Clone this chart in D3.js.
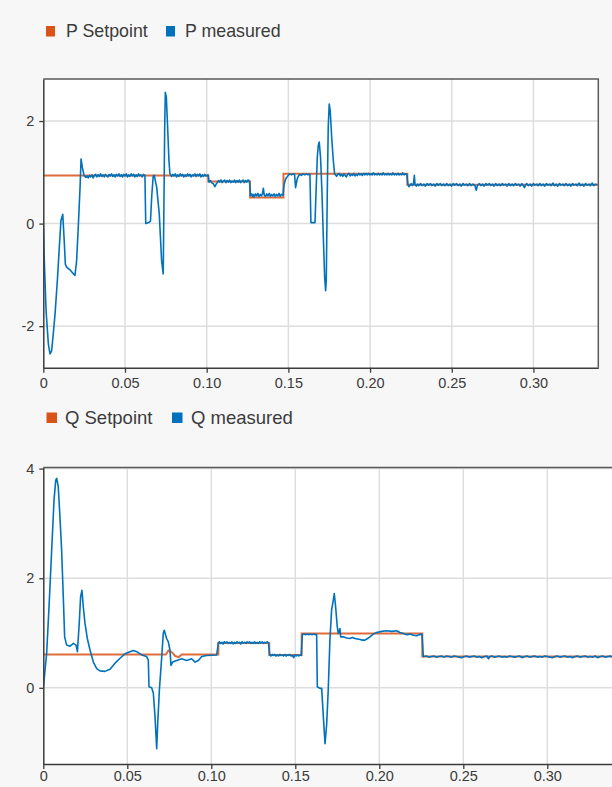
<!DOCTYPE html>
<html>
<head>
<meta charset="utf-8">
<script src="https://cdn.jsdelivr.net/npm/d3@7/dist/d3.min.js"></script>
<style>
  html, body { margin: 0; padding: 0; background: #f7f7f7; }
  svg { display: block; font-family: "Liberation Sans", Arial, sans-serif; }
</style>
</head>
<body>
<svg id="chart" width="612" height="787"></svg>
<script>
// ---- data ---------------------------------------------------------------
const timeTicks = [0, 0.05, 0.10, 0.15, 0.20, 0.25, 0.30];
const pTicks = [-2, 0, 2];
const qTicks = [0, 2, 4];

const pLegend = ["P Setpoint", "P measured"];
const qLegend = ["Q Setpoint", "Q measured"];

// active power setpoint [t, value]
const pSetpoint = [
  [0, 0.94], [0.101, 0.94], [0.101, 0.82], [0.1265, 0.82], [0.1265, 0.51],
  [0.147, 0.51], [0.147, 0.97], [0.2228, 0.97], [0.2228, 0.76], [0.34, 0.76]
];

// active power measured [t, value]
const pMeasured = [
  [0, 0], [0.0006, -0.72], [0.0017, -1.70], [0.0031, -2.35], [0.0041, -2.54], [0.0051, -2.48],
  [0.0061, -2.15], [0.0072, -1.76], [0.0086, -1.11], [0.0098, -0.46], [0.0108, 0.06], [0.0119, 0.18],
  [0.0127, -0.27], [0.0135, -0.79], [0.0143, -0.85], [0.0163, -0.90], [0.0184, -0.98], [0.0194, -1.01],
  [0.0204, -0.72], [0.0214, -0.07], [0.0225, 0.71], [0.0231, 1.26], [0.0239, 1.10], [0.0249, 0.94],
  [0.0261, 0.90], [0.0268, 0.93], [0.0275, 0.89], [0.0283, 0.94], [0.029, 0.91], [0.0298, 0.95],
  [0.0305, 0.89], [0.0313, 0.94], [0.032, 0.96], [0.0328, 0.91], [0.0335, 0.95], [0.0343, 0.92],
  [0.035, 0.97], [0.0358, 0.92], [0.0365, 0.95], [0.0373, 0.91], [0.038, 0.96], [0.0388, 0.93],
  [0.0395, 0.91], [0.0403, 0.96], [0.041, 0.93], [0.0418, 0.97], [0.0425, 0.92], [0.0433, 0.95],
  [0.044, 0.91], [0.0448, 0.96], [0.0455, 0.93], [0.0463, 0.97], [0.047, 0.92], [0.0478, 0.95],
  [0.0485, 0.91], [0.0493, 0.96], [0.05, 0.93], [0.0508, 0.97], [0.0515, 0.91], [0.0523, 0.95],
  [0.053, 0.92], [0.0538, 0.97], [0.0545, 0.93], [0.0553, 0.96], [0.056, 0.91], [0.0568, 0.95],
  [0.0575, 0.92], [0.0583, 0.97], [0.059, 0.93], [0.0598, 0.95], [0.0605, 0.91], [0.0613, 0.96],
  [0.0622, 0.94], [0.0627, 0.0], [0.0645, 0.02], [0.0656, 0.05], [0.0664, 0.55], [0.0673, 0.93],
  [0.0679, 0.94], [0.0694, 0.71], [0.0710, 0.18], [0.0724, -0.72], [0.0734, -0.98], [0.0739, 0.58],
  [0.0743, 1.88], [0.0747, 2.56], [0.0753, 2.47], [0.0761, 1.88], [0.0769, 1.23], [0.0775, 0.97],
  [0.0786, 0.92], [0.0793, 0.96], [0.080, 0.93], [0.0808, 0.97], [0.0815, 0.91], [0.0823, 0.95],
  [0.083, 0.92], [0.0838, 0.97], [0.0845, 0.93], [0.0853, 0.96], [0.086, 0.91], [0.0868, 0.95],
  [0.0875, 0.92], [0.0883, 0.97], [0.089, 0.93], [0.0898, 0.96], [0.0905, 0.91], [0.0913, 0.95],
  [0.092, 0.93], [0.0928, 0.97], [0.0935, 0.92], [0.0943, 0.96], [0.095, 0.93], [0.0958, 0.97],
  [0.0965, 0.91], [0.0973, 0.95], [0.098, 0.92], [0.0988, 0.96], [0.0995, 0.93], [0.1008, 0.95],
  [0.1015, 0.81], [0.1023, 0.84], [0.103, 0.80], [0.104, 0.78], [0.105, 0.72], [0.1058, 0.77],
  [0.1065, 0.80], [0.1073, 0.84], [0.108, 0.81], [0.1088, 0.85], [0.1095, 0.80], [0.1103, 0.83],
  [0.111, 0.85], [0.1118, 0.80], [0.1125, 0.84], [0.1133, 0.81], [0.114, 0.85], [0.1148, 0.80],
  [0.1155, 0.83], [0.1163, 0.81], [0.117, 0.85], [0.1178, 0.80], [0.1185, 0.84], [0.1193, 0.81],
  [0.120, 0.85], [0.1208, 0.80], [0.1215, 0.83], [0.1223, 0.85], [0.123, 0.80], [0.1238, 0.84],
  [0.1245, 0.81], [0.1253, 0.85], [0.1262, 0.83], [0.1268, 0.55], [0.1274, 0.58], [0.128, 0.53],
  [0.1285, 0.57], [0.129, 0.52], [0.1298, 0.58], [0.1305, 0.54], [0.1313, 0.59], [0.132, 0.53],
  [0.1328, 0.57], [0.1335, 0.54], [0.1341, 0.58], [0.1347, 0.69], [0.1352, 0.56], [0.136, 0.53],
  [0.1368, 0.58], [0.1375, 0.54], [0.1383, 0.59], [0.139, 0.53], [0.1398, 0.57], [0.1405, 0.54],
  [0.1413, 0.58], [0.142, 0.53], [0.1428, 0.57], [0.1435, 0.54], [0.1443, 0.59], [0.145, 0.53],
  [0.1458, 0.57], [0.1467, 0.55], [0.1473, 0.75], [0.1483, 0.87], [0.1499, 0.94], [0.1508, 0.97],
  [0.152, 0.95], [0.153, 0.97], [0.1538, 0.96], [0.1544, 0.70], [0.1554, 0.87], [0.1562, 0.93],
  [0.157, 0.96], [0.158, 0.94], [0.159, 0.97], [0.160, 0.95], [0.161, 0.97], [0.162, 0.95],
  [0.1632, 0.97], [0.1638, 0.02], [0.1663, 0.02], [0.1669, 0.58], [0.1677, 1.29], [0.1683, 1.52],
  [0.1689, 1.59], [0.1697, 1.29], [0.1706, 0.58], [0.1714, -0.27], [0.1722, -1.04], [0.1728, -1.31],
  [0.1732, -1.11], [0.1738, 0.58], [0.1744, 1.88], [0.1750, 2.33], [0.1756, 2.21], [0.1765, 1.69],
  [0.1775, 1.23], [0.1783, 0.97], [0.1789, 0.95], [0.1795, 0.92], [0.1803, 0.96], [0.181, 0.98],
  [0.1818, 0.93], [0.1825, 0.96], [0.1833, 0.92], [0.184, 0.97], [0.1848, 0.94], [0.1855, 0.91],
  [0.1863, 0.96], [0.187, 0.98], [0.1878, 0.93], [0.1885, 0.96], [0.1893, 0.94], [0.190, 0.98],
  [0.1908, 0.93], [0.1915, 0.96], [0.1923, 0.94], [0.193, 0.98], [0.1938, 0.95], [0.1945, 0.97],
  [0.1953, 0.94], [0.196, 0.98], [0.1968, 0.95], [0.1975, 0.98], [0.1983, 0.95], [0.199, 0.98],
  [0.1998, 0.95], [0.2005, 0.97], [0.2013, 0.95], [0.202, 0.99], [0.2028, 0.95], [0.2035, 0.97],
  [0.2043, 0.95], [0.205, 0.98], [0.2058, 0.95], [0.2065, 0.97], [0.2073, 0.95], [0.208, 0.99],
  [0.2088, 0.95], [0.2095, 0.97], [0.2103, 0.95], [0.211, 0.98], [0.2118, 0.95], [0.2125, 0.97],
  [0.2133, 0.95], [0.214, 0.99], [0.2148, 0.95], [0.2155, 0.97], [0.2163, 0.95], [0.217, 0.98],
  [0.2178, 0.95], [0.2185, 0.97], [0.2193, 0.95], [0.220, 0.99], [0.2208, 0.95], [0.2215, 0.97],
  [0.2225, 0.96], [0.2232, 0.76], [0.2238, 0.72], [0.2245, 0.75], [0.2253, 0.78], [0.226, 0.74],
  [0.2266, 0.77], [0.2271, 0.94], [0.2275, 0.77], [0.2283, 0.73], [0.229, 0.77], [0.2298, 0.74],
  [0.231, 0.78], [0.2318, 0.74], [0.233, 0.77], [0.2338, 0.73], [0.235, 0.78], [0.2358, 0.75],
  [0.237, 0.78], [0.2378, 0.74], [0.239, 0.77], [0.2398, 0.73], [0.241, 0.78], [0.2418, 0.75],
  [0.243, 0.78], [0.2438, 0.74], [0.245, 0.77], [0.2458, 0.74], [0.247, 0.78], [0.2478, 0.74],
  [0.249, 0.77], [0.2498, 0.73], [0.251, 0.78], [0.2518, 0.75], [0.253, 0.78], [0.2538, 0.74],
  [0.255, 0.77], [0.2558, 0.73], [0.257, 0.78], [0.2578, 0.75], [0.259, 0.77], [0.2598, 0.74],
  [0.261, 0.78], [0.2618, 0.74], [0.263, 0.77], [0.2642, 0.74], [0.265, 0.65], [0.2658, 0.75],
  [0.267, 0.78], [0.2678, 0.74], [0.269, 0.77], [0.2698, 0.73], [0.271, 0.78], [0.2718, 0.75],
  [0.273, 0.78], [0.2738, 0.74], [0.275, 0.77], [0.2758, 0.73], [0.277, 0.78], [0.2778, 0.74],
  [0.279, 0.77], [0.2798, 0.74], [0.281, 0.78], [0.2818, 0.75], [0.283, 0.77], [0.2838, 0.73],
  [0.285, 0.78], [0.2858, 0.74], [0.287, 0.77], [0.2878, 0.74], [0.289, 0.78], [0.2898, 0.75],
  [0.291, 0.77], [0.2918, 0.73], [0.293, 0.78], [0.2938, 0.74], [0.2945, 0.70], [0.2953, 0.76],
  [0.296, 0.78], [0.2968, 0.74], [0.298, 0.77], [0.2988, 0.73], [0.300, 0.78], [0.3008, 0.75],
  [0.302, 0.77], [0.3028, 0.74], [0.304, 0.78], [0.3048, 0.74], [0.306, 0.77], [0.3068, 0.73],
  [0.308, 0.78], [0.3088, 0.75], [0.310, 0.77], [0.3108, 0.74], [0.312, 0.79], [0.3128, 0.74],
  [0.314, 0.77], [0.3148, 0.73], [0.316, 0.78], [0.3168, 0.75], [0.318, 0.77], [0.3188, 0.74],
  [0.320, 0.78], [0.3208, 0.74], [0.322, 0.77], [0.3228, 0.73], [0.324, 0.78], [0.3248, 0.75],
  [0.326, 0.77], [0.3268, 0.74], [0.328, 0.79], [0.3288, 0.74], [0.330, 0.77], [0.3308, 0.73],
  [0.332, 0.78], [0.3328, 0.75], [0.334, 0.77], [0.3348, 0.74], [0.336, 0.79], [0.3368, 0.74],
  [0.338, 0.77], [0.3387, 0.75]
];

// reactive power setpoint [t, value]
const qSetpoint = [
  [0, 0.61], [0.0730, 0.61], [0.0745, 0.68], [0.0765, 0.65], [0.0785, 0.58], [0.0805, 0.56],
  [0.0825, 0.61], [0.1042, 0.61], [0.1042, 0.82], [0.1345, 0.82], [0.1345, 0.60], [0.1538, 0.60],
  [0.1538, 0.99], [0.2256, 0.99], [0.2256, 0.57], [0.34, 0.57]
];

// reactive power measured [t, value]
const qMeasured = [
  [0, 0], [0.0020, 0.63], [0.0036, 1.60], [0.0050, 2.52], [0.0064, 3.43], [0.0074, 3.79],
  [0.0080, 3.82], [0.0089, 3.67], [0.0099, 3.12], [0.0109, 2.52], [0.0119, 1.66], [0.0127, 0.93],
  [0.0139, 0.78], [0.0159, 0.76], [0.0179, 0.81], [0.0195, 0.78], [0.0203, 0.66], [0.0214, 1.18],
  [0.0222, 1.66], [0.0230, 1.78], [0.0238, 1.48], [0.0248, 1.18], [0.0262, 0.90], [0.0278, 0.69],
  [0.0298, 0.47], [0.0318, 0.35], [0.0337, 0.31], [0.0367, 0.30], [0.0397, 0.34], [0.0427, 0.45],
  [0.0457, 0.54], [0.0486, 0.62], [0.0516, 0.66], [0.0536, 0.68], [0.0556, 0.66], [0.0586, 0.60],
  [0.0615, 0.57], [0.0625, 0.51], [0.0629, 0.02], [0.0645, 0.0], [0.0655, -0.10], [0.0665, -0.53],
  [0.0675, -1.11], [0.0681, -0.65], [0.0691, -0.04], [0.0705, 0.57], [0.0714, 0.99], [0.0720, 1.05],
  [0.0734, 0.90], [0.0744, 0.84], [0.0754, 0.69], [0.0760, 0.41], [0.0770, 0.47], [0.0794, 0.50],
  [0.0824, 0.53], [0.0853, 0.50], [0.0883, 0.53], [0.0903, 0.47], [0.0923, 0.50], [0.0943, 0.57],
  [0.0972, 0.59], [0.1032, 0.60], [0.1042, 0.81], [0.1048, 0.84], [0.1055, 0.81], [0.1063, 0.83],
  [0.107, 0.80], [0.1078, 0.84], [0.1085, 0.82], [0.1093, 0.84], [0.110, 0.81], [0.1108, 0.83],
  [0.1115, 0.81], [0.1123, 0.84], [0.113, 0.80], [0.1138, 0.83], [0.1145, 0.81], [0.1153, 0.84],
  [0.116, 0.82], [0.1168, 0.83], [0.1175, 0.80], [0.1183, 0.84], [0.119, 0.82], [0.1198, 0.83],
  [0.1205, 0.81], [0.1213, 0.84], [0.122, 0.82], [0.1228, 0.84], [0.1235, 0.81], [0.1243, 0.83],
  [0.125, 0.81], [0.1258, 0.84], [0.1265, 0.81], [0.1273, 0.83], [0.128, 0.81], [0.1288, 0.84],
  [0.1295, 0.82], [0.1303, 0.84], [0.131, 0.81], [0.1318, 0.83], [0.1325, 0.82], [0.1333, 0.84],
  [0.134, 0.82], [0.1348, 0.60], [0.1355, 0.58], [0.1363, 0.61], [0.137, 0.59], [0.1378, 0.61],
  [0.1385, 0.58], [0.1393, 0.60], [0.140, 0.58], [0.1408, 0.61], [0.1415, 0.59], [0.1423, 0.60],
  [0.143, 0.58], [0.1438, 0.61], [0.1445, 0.58], [0.1453, 0.60], [0.146, 0.59], [0.1468, 0.61],
  [0.1475, 0.58], [0.1483, 0.59], [0.149, 0.55], [0.1498, 0.60], [0.1505, 0.58], [0.1513, 0.60],
  [0.152, 0.58], [0.1528, 0.60], [0.1535, 0.59], [0.1542, 0.97], [0.155, 0.98], [0.156, 0.97],
  [0.157, 0.98], [0.158, 0.97], [0.159, 0.98], [0.160, 0.97], [0.161, 0.98], [0.162, 0.97],
  [0.1627, 0.97], [0.1631, 0.02], [0.1647, -0.01], [0.1657, -0.01], [0.1667, -0.53], [0.1677, -1.02],
  [0.1687, -0.65], [0.1696, -0.04], [0.1706, 0.87], [0.1716, 1.42], [0.1723, 1.54], [0.1732, 1.72],
  [0.1740, 1.48], [0.1750, 1.11], [0.1756, 0.99], [0.1766, 1.08], [0.1770, 0.93], [0.1786, 0.93],
  [0.1805, 0.91], [0.1825, 0.90], [0.1840, 0.92], [0.1855, 0.90], [0.1870, 0.89], [0.1885, 0.88],
  [0.1900, 0.87], [0.1915, 0.87], [0.1930, 0.90], [0.1944, 0.93], [0.1964, 0.98], [0.1984, 1.01],
  [0.2014, 1.03], [0.2044, 1.04], [0.2074, 1.03], [0.2103, 1.04], [0.2123, 1.01], [0.2143, 0.99],
  [0.2163, 0.97], [0.2183, 0.98], [0.2203, 0.96], [0.2222, 0.95], [0.2238, 0.97], [0.2254, 0.98],
  [0.2262, 0.57], [0.228, 0.58], [0.2295, 0.56], [0.231, 0.57], [0.2325, 0.58], [0.234, 0.56],
  [0.2355, 0.57], [0.237, 0.58], [0.2385, 0.56], [0.240, 0.58], [0.2415, 0.57], [0.243, 0.56],
  [0.2445, 0.58], [0.246, 0.57], [0.2475, 0.56], [0.249, 0.55], [0.2505, 0.57], [0.252, 0.58],
  [0.2535, 0.56], [0.255, 0.57], [0.2565, 0.58], [0.258, 0.56], [0.2595, 0.57], [0.261, 0.55],
  [0.2625, 0.57], [0.264, 0.58], [0.265, 0.53], [0.2658, 0.57], [0.267, 0.58], [0.2685, 0.56],
  [0.270, 0.57], [0.2715, 0.58], [0.273, 0.56], [0.2745, 0.57], [0.276, 0.56], [0.2775, 0.58],
  [0.279, 0.57], [0.2805, 0.56], [0.282, 0.57], [0.2835, 0.58], [0.285, 0.55], [0.2865, 0.57],
  [0.288, 0.58], [0.2895, 0.56], [0.291, 0.57], [0.2925, 0.58], [0.294, 0.56], [0.2955, 0.57],
  [0.297, 0.56], [0.2985, 0.58], [0.300, 0.57], [0.3015, 0.56], [0.303, 0.55], [0.3045, 0.57],
  [0.306, 0.58], [0.3075, 0.56], [0.309, 0.57], [0.3105, 0.58], [0.312, 0.56], [0.3135, 0.57],
  [0.315, 0.55], [0.3165, 0.57], [0.318, 0.58], [0.3195, 0.56], [0.321, 0.57], [0.3225, 0.58],
  [0.324, 0.56], [0.3255, 0.57], [0.327, 0.56], [0.3285, 0.58], [0.330, 0.55], [0.3315, 0.57],
  [0.333, 0.58], [0.3345, 0.56], [0.336, 0.57], [0.3375, 0.58], [0.339, 0.56], [0.342, 0.57]
];

// ---- drawing ------------------------------------------------------------
const COLOR_SET = "#d95319";
const COLOR_MEAS = "#0072bd";
const svg = d3.select("#chart");

function drawLegend(labels, cfg) {
  const g = svg.append("g");
  const colors = [COLOR_SET, COLOR_MEAS];
  labels.forEach((lab, i) => {
    g.append("rect")
      .attr("x", cfg.sx[i]).attr("y", cfg.sy)
      .attr("width", cfg.sw).attr("height", cfg.sh)
      .attr("fill", colors[i]);
    g.append("text")
      .attr("x", cfg.tx[i]).attr("y", cfg.ty)
      .attr("font-size", cfg.fs)
      .attr("fill", "#3b3b3b")
      .text(lab);
  });
}

// plain hyphen for negative tick values
const intFmt = d => String(d);
const timeFmt = d => d === 0 ? "0" : d3.format(".2f")(d);

function drawPanel(id, setpoint, measured, yTicks, cfg) {
  const x = d3.scaleLinear().domain(cfg.xDomain).range([cfg.left, cfg.right]);
  const y = d3.scaleLinear().domain(cfg.yDomain).range([cfg.bottom, cfg.top]);
  const g = svg.append("g");

  g.append("rect")
    .attr("x", cfg.left).attr("y", cfg.top)
    .attr("width", cfg.right - cfg.left).attr("height", cfg.bottom - cfg.top)
    .attr("fill", "#ffffff");

  // grid
  g.append("g").selectAll("line").data(timeTicks.filter(d => d > 0)).join("line")
    .attr("x1", d => x(d)).attr("x2", d => x(d))
    .attr("y1", cfg.top).attr("y2", cfg.bottom)
    .attr("stroke", "#dddddd").attr("stroke-width", 1.5);
  g.append("g").selectAll("line").data(yTicks).join("line")
    .attr("x1", cfg.left).attr("x2", cfg.right)
    .attr("y1", d => y(d)).attr("y2", d => y(d))
    .attr("stroke", "#dddddd").attr("stroke-width", 1.5);

  const clipId = "clip-" + id;
  svg.append("clipPath").attr("id", clipId).append("rect")
    .attr("x", cfg.left).attr("y", cfg.top)
    .attr("width", cfg.right - cfg.left).attr("height", cfg.bottom - cfg.top);

  const line = d3.line().x(d => x(d[0])).y(d => y(d[1]));
  const lines = g.append("g").attr("clip-path", `url(#${clipId})`);
  lines.append("path").datum(setpoint)
    .attr("d", line).attr("fill", "none")
    .attr("stroke", COLOR_SET).attr("stroke-width", 2).attr("stroke-opacity", 0.85);
  lines.append("path").datum(measured)
    .attr("d", line).attr("fill", "none")
    .attr("stroke", COLOR_MEAS).attr("stroke-width", 1.6)
    .attr("stroke-linejoin", "round");

  // frame: top and right edges
  g.append("path")
    .attr("d", `M${cfg.left},${cfg.top}H${cfg.right}V${cfg.bottom}`)
    .attr("fill", "none").attr("stroke", "#5a5a5a").attr("stroke-width", 1.5);

  const xAxis = g.append("g")
    .attr("transform", `translate(0,${cfg.bottom})`)
    .call(d3.axisBottom(x).tickValues(timeTicks).tickFormat(timeFmt)
      .tickSize(5).tickSizeOuter(0).tickPadding(cfg.xPad));
  const yAxis = g.append("g")
    .attr("transform", `translate(${cfg.left},0)`)
    .call(d3.axisLeft(y).tickValues(yTicks).tickFormat(intFmt)
      .tickSize(4).tickSizeOuter(0).tickPadding(5));

  [xAxis, yAxis].forEach(a => {
    a.select(".domain").attr("stroke", "#3c3c3c").attr("stroke-width", 1.5);
    a.selectAll(".tick line").attr("stroke", "#3c3c3c").attr("stroke-width", 1.3);
    a.selectAll(".tick text")
      .attr("fill", "#3b3b3b")
      .attr("font-size", 14.5)
      .attr("font-family", "\"Liberation Sans\", Arial, sans-serif");
  });
}

drawLegend(pLegend, { sx: [46, 166], sy: 26, sw: 9, sh: 10.5, tx: [66, 185], ty: 37, fs: 17.8 });
drawPanel("p", pSetpoint, pMeasured, pTicks, {
  left: 43.3, right: 598.3, top: 79, bottom: 367.7,
  xDomain: [0, 0.3397], yDomain: [-2.81, 2.82], xPad: 5
});

drawLegend(qLegend, { sx: [46.5, 172], sy: 412.5, sw: 10.5, sh: 10.5, tx: [65, 191], ty: 424, fs: 18.5 });
drawPanel("q", qSetpoint, qMeasured, qTicks, {
  left: 43.3, right: 614.5, top: 467.5, bottom: 764,
  xDomain: [0, 0.34], yDomain: [-1.39, 4.02], xPad: 2
});
</script>
</body>
</html>
